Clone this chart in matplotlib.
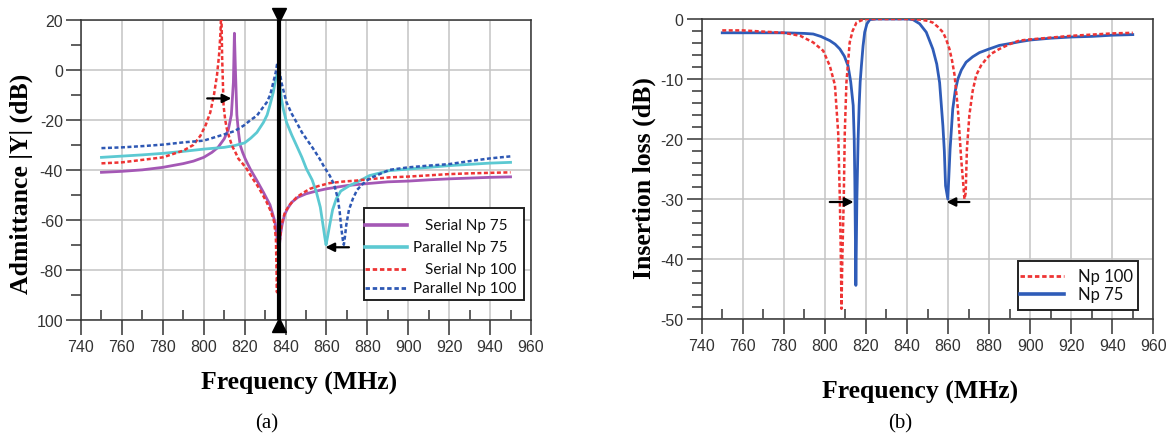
import matplotlib
matplotlib.use("Agg")
import matplotlib.pyplot as plt
import matplotlib.transforms as mtransforms
from matplotlib.patches import Rectangle
from matplotlib.lines import Line2D
from matplotlib.ticker import MultipleLocator, FixedLocator, FixedFormatter

plt.rcParams['axes.unicode_minus'] = False

# ---------------- data: panel (a) admittance ----------------
f_serial75 = [750, 760, 770, 780, 790, 795, 800, 804, 807, 810, 812, 813.5, 814.5, 815, 815.5,
              816.2, 817, 817.8, 819, 820.3, 822.7, 826, 829.2, 832.4, 834.9, 836.1, 836.8,
              837.5, 838.3, 839.5, 841, 843, 846, 850, 855, 860, 870, 880, 890, 900, 910,
              920, 930, 940, 950]
y_serial75 = [-41, -40.6, -40, -39, -37.5, -36.5, -35, -33, -31, -27.6, -24, -18, -5, 14.7, 0,
              -18, -25, -30, -33, -35.6, -39.6, -44.3, -49, -54, -61, -69, -72,
              -66, -62, -58, -55.5, -53, -51, -49.6, -48.5, -47.6, -46.3, -45.5, -44.8, -44.5, -44,
              -43.6, -43.3, -43, -42.8]

f_parallel75 = [750, 760, 770, 780, 790, 800, 810, 815, 820, 823, 826, 829.2, 831, 832.4, 834,
                835.3, 836.2, 837, 838, 839, 840.5, 843, 845.4, 848, 850.2, 853, 855.1, 857,
                858.3, 859.2, 859.8, 860.5, 861.6, 863, 864.8, 867, 871.3, 876, 881, 890.8,
                900, 910, 920, 930, 940, 950]
y_parallel75 = [-35, -34.5, -34, -33.4, -32.6, -31.7, -31, -30.3, -29.2, -27.3, -25, -21, -18, -14, -9,
                -3, -1.5, -5, -11.6, -16, -21, -26, -30.3, -35, -39.6, -44, -49, -55,
                -62, -67, -70, -67, -62, -56, -51.6, -48.5, -46.3, -44.5, -42.3, -40.3,
                -39.7, -39, -38.3, -37.8, -37.3, -37]

f_serial100 = [750, 760, 770, 780, 790, 795, 798.4, 801, 803.2, 805, 806.5, 807.5, 808.2, 808.6,
               809, 809.7, 810.5, 811.3, 812.5, 813.8, 815.5, 817, 819, 821, 823.5, 826, 828.5,
               830.8, 833, 834.5, 835.3, 835.8, 836.3, 837.3, 838, 839.7, 842, 845.4, 848,
               851.9, 856, 861.6, 868, 874.6, 880, 890.8, 900, 910, 920, 930, 940, 950]
y_serial100 = [-37.4, -37, -36, -35, -32.3, -30, -26.3, -22, -17, -10, -2, 6, 15, 25,
               5, -14.3, -20, -23.6, -27, -30.3, -33, -35.6, -37.5, -39.6, -43, -46, -49.5,
               -53, -57, -61, -68, -89, -72, -67.6, -62, -57, -54, -51, -49.5,
               -47.6, -46.5, -45.3, -44.7, -44.3, -43.8, -43, -42.7, -42.2, -41.7, -41.4, -41.2, -41]

f_parallel100 = [750, 760, 770, 780, 790, 800, 810, 815, 819.5, 823, 826, 828.5, 830.8, 832.5,
                 834, 835.2, 836, 836.8, 838, 839.2, 840.5, 843, 845.4, 848, 850.2, 853.5,
                 856.7, 859, 861.6, 863.8, 865.6, 866.5, 867.3, 868, 868.5, 869, 869.7, 871,
                 872.9, 875, 877.8, 881, 884.3, 890.8, 900, 910, 920, 930, 940, 950]
y_parallel100 = [-31.3, -31, -30.5, -29.9, -29, -28.3, -25.8, -24.5, -22.3, -20, -18.3, -15.5, -13, -10,
                 -5, -1, 3, 1, -5, -9, -13, -17.5, -21, -25, -27.6, -31.5,
                 -35.6, -39, -42.3, -46, -51.6, -57, -63.6, -68, -70, -67, -62, -56,
                 -51.6, -48, -45.6, -43.5, -42.3, -40, -39, -38.3, -37.7, -36.5, -35.4, -34.6]

marker_freq_a = 837
arrows_a = [((801.7, -11.4), (813.5, -11.4)), ((871.0, -71.0), (859.5, -71.0))]
labels_a = ["Serial Np 75", "Parallel Np 75", "Serial Np 100", "Parallel Np 100"]
yticks_a = [20, 0, -20, -40, -60, -80, -100]
yticklabels_a = ["20", "0", "-20", "-40", "-60", "-80", "100"]

# ---------------- data: panel (b) insertion loss ----------------
f_np100 = [750, 760, 770, 780, 788, 794.3, 799.2, 802.4, 804.9, 806.5, 807.3, 807.8, 808.1,
           808.5, 809.2, 809.7, 810.5, 812.1, 813.5, 815.4, 818, 820.2, 825, 830, 840, 846.2,
           850, 852.6, 855, 857.5, 859, 860.7, 862, 863.2, 864.8, 866.4, 867.3, 868, 868.6,
           869.2, 870.4, 872, 873.7, 876, 878.5, 881, 885, 890, 894.7, 900, 910, 920, 930,
           940, 950]
il_np100 = [-1.9, -1.9, -2.1, -2.3, -2.8, -3.9, -5.3, -7.8, -11, -19, -30, -40, -48.3,
            -40, -30, -19, -10.6, -3.9, -2, -0.6, -0.2, 0, 0, 0, 0, -0.1,
            -0.3, -0.6, -1.3, -2.2, -3.3, -5, -7, -9.4, -15, -23.3, -27, -30, -29,
            -21.7, -16, -12, -9.4, -7.8, -6.7, -5.8, -5, -4.2, -3.6, -3.4, -3.1, -2.8, -2.6,
            -2.4, -2.3]

f_np75 = [750, 760, 770, 780, 790, 794.3, 798, 802.4, 805, 807.3, 809.5, 811.3, 812.6, 813.8,
          814.3, 814.6, 815.1, 815.6, 816.2, 816.7, 817.2, 817.8, 818.6, 819.4, 820.5, 821.9,
          825, 830, 840, 842.9, 846.2, 849.4, 852.6, 854.5, 855.9, 857.5, 858.2, 858.8, 859.9,
          861, 862.3, 863.5, 864.8, 866.5, 868.8, 872, 875.3, 880, 885, 890, 894.7, 900, 910,
          920, 930, 940, 950]
il_np75 = [-2.3, -2.3, -2.3, -2.3, -2.4, -2.5, -2.9, -3.6, -4.2, -5, -6.2, -7.8, -10.5, -14.4,
           -20, -27, -44.4, -30, -20, -14.4, -10.5, -7.8, -4.5, -2.2, -0.8, -0.1,
           0, 0, 0, -0.1, -0.8, -2.2, -5, -7.5, -10.6, -17.8, -22, -27.8, -30,
           -21.7, -15, -12, -10, -8.5, -7.2, -6.3, -5.6, -5, -4.4, -4.1, -3.8, -3.5, -3.2,
           -3, -2.9, -2.7, -2.6]

arrows_b = [((802.4, -30.5), (814.0, -30.5)), ((870.4, -30.5), (859.3, -30.5))]
labels_b = ["Np 100", "Np 75"]

# ---------------- styling ----------------
W, H = 1168, 439
fig = plt.figure(figsize=(W / 100, H / 100), dpi=100)

TICK_FONT = ['Liberation Sans Narrow', 'Liberation Sans', 'DejaVu Sans']
LABEL_FONT = ['Liberation Serif', 'DejaVu Serif']
LEG_FONT = ['Lato', 'DejaVu Sans']

c_purple = '#a458b5'
c_cyan = '#5cc9d2'
c_red = '#ee3434'
c_blue = '#2e58b4'
c_blue2 = '#2f5cb8'
dot = (0, (1.6, 1.0))


def px_axes(l, t, r, b):
    return fig.add_axes([l / W, 1 - b / H, (r - l) / W, (b - t) / H])


def style_axes(ax):
    for s in ax.spines.values():
        s.set_color('#333333')
        s.set_linewidth(1.1)
    ax.grid(True, which='major', color='#c4c4c4', lw=1.1)
    ax.set_axisbelow(True)
    ax.tick_params(axis='both', which='major', length=11, width=1.1, color='#333333',
                   labelsize=11.5, labelcolor='#333333')
    ax.tick_params(axis='y', which='minor', direction='out', length=7, width=1.1, color='#333333')
    ax.tick_params(axis='x', which='minor', direction='in', length=7, width=1.1, color='#333333')
    ax.tick_params(axis='x', which='major', pad=3)
    ax.tick_params(axis='y', which='major', pad=2)
    for lab in ax.get_xticklabels() + ax.get_yticklabels():
        lab.set_fontfamily(TICK_FONT)


# ---------------- panel (a) ----------------
axa = px_axes(81, 21, 531, 320.7)
axa.plot(f_serial75, y_serial75, color=c_purple, lw=2.0, zorder=3)
axa.plot(f_parallel75, y_parallel75, color=c_cyan, lw=2.0, zorder=3)
axa.plot(f_serial100, y_serial100, color=c_red, lw=1.8, ls=dot, zorder=4)
axa.plot(f_parallel100, y_parallel100, color=c_blue, lw=1.8, ls=dot, zorder=4)
axa.set_xlim(740, 960)
axa.set_ylim(-100, 20)
axa.xaxis.set_major_locator(MultipleLocator(20))
axa.xaxis.set_minor_locator(MultipleLocator(10))
axa.yaxis.set_major_locator(FixedLocator(yticks_a))
axa.yaxis.set_major_formatter(FixedFormatter(yticklabels_a))
axa.yaxis.set_minor_locator(MultipleLocator(10))
style_axes(axa)

# marker line with triangles outside the frame
axa.plot([marker_freq_a, marker_freq_a], [-100, 20], color='black', lw=3.0, zorder=6,
         solid_capstyle='butt')
top_tr = mtransforms.offset_copy(axa.transData, fig=fig, y=5, units='dots')
bot_tr = mtransforms.offset_copy(axa.transData, fig=fig, y=-5, units='dots')
axa.plot([marker_freq_a], [20], marker='v', ms=10, color='black', transform=top_tr,
         clip_on=False, zorder=7)
axa.plot([marker_freq_a], [-100], marker='^', ms=10, color='black', transform=bot_tr,
         clip_on=False, zorder=7)

for (x0, y0), (x1, y1) in arrows_a:
    axa.annotate('', xy=(x1, y1), xytext=(x0, y0),
                 arrowprops=dict(arrowstyle='-|>', color='black', lw=1.6,
                                 mutation_scale=13, shrinkA=0, shrinkB=0), zorder=8)

# legend (a) drawn manually
def axfrac_a(px, py):
    return ((px - 81) / 450.0, (320.7 - py) / 299.7)

bx0, by0 = axfrac_a(364, 301)
bx1, by1 = axfrac_a(524, 209.3)
axa.add_patch(Rectangle((bx0, by0), bx1 - bx0, by1 - by0, transform=axa.transAxes,
                        facecolor='white', edgecolor='#222222', lw=1.4, zorder=9))
rows_py = [225.7, 248.3, 270, 289.3]
text_px = [425, 413, 425, 413]
handle_styles = [dict(color=c_purple, lw=2.6), dict(color=c_cyan, lw=2.6),
                 dict(color=c_red, lw=2.0, ls=dot), dict(color=c_blue, lw=2.0, ls=dot)]
for lab, py, tpx, hs in zip(labels_a, rows_py, text_px, handle_styles):
    hx0, hy = axfrac_a(365, py)
    hx1, _ = axfrac_a(407, py)
    axa.add_line(Line2D([hx0, hx1], [hy, hy], transform=axa.transAxes, zorder=10, **hs))
    tx, _ = axfrac_a(tpx, py)
    axa.text(tx, hy, lab, transform=axa.transAxes, ha='left', va='center',
             fontsize=11, family=LEG_FONT, color='#111111', zorder=10)

# ---------------- panel (b) ----------------
axb = px_axes(701.7, 20, 1153.3, 320)
axb.plot(f_np100, il_np100, color=c_red, lw=1.8, ls=dot, zorder=4)
axb.plot(f_np75, il_np75, color=c_blue2, lw=2.0, zorder=3)
axb.set_xlim(740, 960)
axb.set_ylim(-50, 0)
axb.xaxis.set_major_locator(MultipleLocator(20))
axb.xaxis.set_minor_locator(MultipleLocator(10))
axb.yaxis.set_major_locator(MultipleLocator(10))
axb.yaxis.set_minor_locator(MultipleLocator(2))
style_axes(axb)

for (x0, y0), (x1, y1) in arrows_b:
    axb.annotate('', xy=(x1, y1), xytext=(x0, y0),
                 arrowprops=dict(arrowstyle='-|>', color='black', lw=1.6,
                                 mutation_scale=13, shrinkA=0, shrinkB=0), zorder=8)


def axfrac_b(px, py):
    return ((px - 701.7) / 451.6, (320.0 - py) / 300.0)

bx0, by0 = axfrac_b(1018, 311)
bx1, by1 = axfrac_b(1137.5, 262)
axb.add_patch(Rectangle((bx0, by0), bx1 - bx0, by1 - by0, transform=axb.transAxes,
                        facecolor='white', edgecolor='#222222', lw=1.4, zorder=9))
rows_b = [277, 295]
hstyles_b = [dict(color=c_red, lw=2.0, ls=dot), dict(color=c_blue2, lw=2.6)]
for lab, py, hs in zip(labels_b, rows_b, hstyles_b):
    hx0, hy = axfrac_b(1020, py)
    hx1, _ = axfrac_b(1064, py)
    axb.add_line(Line2D([hx0, hx1], [hy, hy], transform=axb.transAxes, zorder=10, **hs))
    tx, _ = axfrac_b(1078, py)
    axb.text(tx, hy, lab, transform=axb.transAxes, ha='left', va='center',
             fontsize=12, family=LEG_FONT, color='#111111', zorder=10)

# ---------------- labels ----------------
def ftext(px, py, s, **kw):
    fig.text(px / W, 1 - py / H, s, ha='center', va='center', **kw)

ftext(299, 383, 'Frequency (MHz)', fontsize=18.5, fontweight='bold', family=LABEL_FONT)
ftext(920, 392, 'Frequency (MHz)', fontsize=18.5, fontweight='bold', family=LABEL_FONT)
ftext(21, 184, 'Admittance |Y| (dB)', fontsize=18.5, fontweight='bold', family=LABEL_FONT,
      rotation=90)
ftext(644, 178, 'Insertion loss (dB)', fontsize=18.5, fontweight='bold', family=LABEL_FONT,
      rotation=90)
ftext(267, 424, '(a)', fontsize=15, family=LABEL_FONT)
ftext(900, 424, '(b)', fontsize=15, family=LABEL_FONT)

fig.savefig('out.png', dpi=100)
